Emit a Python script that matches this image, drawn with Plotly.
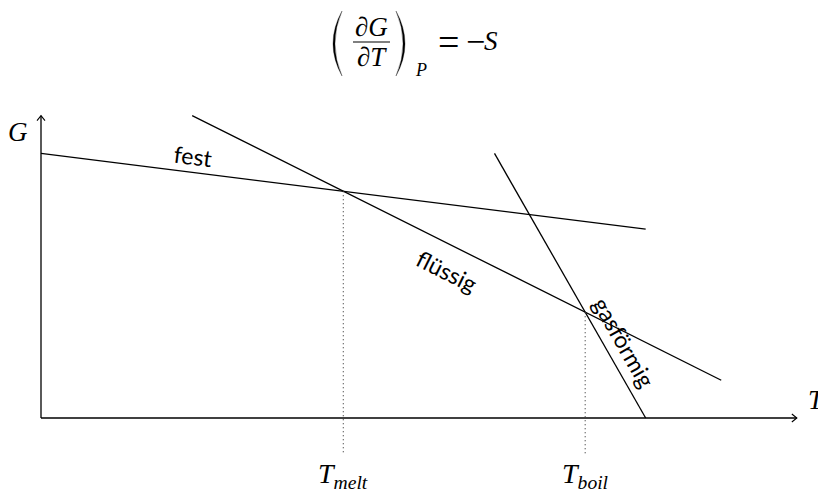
import math
import numpy as np
import plotly.graph_objects as go

W, H = 818, 492

# Gibbs energy G(T) of each phase (straight segments, end points)
fest_T = [0.0, 10.0]
fest_G = [7.0, 5.0]
fluessig_T = [2.5, 11.25]
fluessig_G = [8.0, 1.0]
gas_T = [7.5, 10.0]
gas_G = [7.0, 0.0]

# transition temperatures
T_melt = 5.0
T_boil = 9.0

# axis extents
T_axis_max = 12.5
G_axis_max = 8.0

# visible window in data units
x_range = [-0.678, 12.85]
y_range = [-1.958, 11.06]

sx = W / (x_range[1] - x_range[0])   # px per T unit
sy = H / (y_range[1] - y_range[0])   # px per G unit

LINE = dict(color="black", width=1.3)
SERIF = "Liberation Serif"
SANS = "Lato"
MATH = 28


def px_x(px):
    return px / W


def px_y(py):
    return 1 - py / H


def slope_angle(T, G):
    """Clockwise screen angle (deg) of a segment, for rotated labels."""
    dG = (G[1] - G[0]) / (T[1] - T[0])
    return math.degrees(math.atan(-dG * sy / sx))


fig = go.Figure()

# coordinate axes with open arrow heads
fig.add_trace(go.Scatter(x=[0, T_axis_max], y=[0, 0], mode="lines",
                         line=LINE, hoverinfo="skip"))
fig.add_trace(go.Scatter(x=[0, 0], y=[0, G_axis_max], mode="lines",
                         line=LINE, hoverinfo="skip"))
hb, hw = 5.0, 4.0  # head length / half width in px
fig.add_trace(go.Scatter(
    x=[T_axis_max - hb / sx, T_axis_max, T_axis_max - hb / sx],
    y=[hw / sy, 0, -hw / sy], mode="lines",
    line=dict(color="black", width=1.1), hoverinfo="skip"))
fig.add_trace(go.Scatter(
    x=[-hw / sx, 0, hw / sx],
    y=[G_axis_max - hb / sy, G_axis_max, G_axis_max - hb / sy], mode="lines",
    line=dict(color="black", width=1.1), hoverinfo="skip"))

# phase lines
for T, G in [(fest_T, fest_G), (fluessig_T, fluessig_G), (gas_T, gas_G)]:
    fig.add_trace(go.Scatter(x=T, y=G, mode="lines", line=LINE,
                             hoverinfo="skip"))

# dotted drop lines at the transitions
G_melt = float(np.interp(T_melt, fest_T, fest_G))
G_boil = float(np.interp(T_boil, fluessig_T, fluessig_G))
drop_bottom = -0.93
for T0, G0 in [(T_melt, G_melt), (T_boil, G_boil)]:
    fig.add_trace(go.Scatter(x=[T0, T0], y=[G0, drop_bottom], mode="lines",
                             line=dict(color="#444444", width=1.2,
                                       dash="1px,3px"),
                             hoverinfo="skip"))

annotations = []


def label_on(T, G, t, text, dx, dy, size=23):
    g = float(np.interp(t, T, G))
    annotations.append(dict(
        x=t, y=g, xref="x", yref="y", text=text, showarrow=False,
        xanchor="center", yanchor="middle", xshift=dx, yshift=dy,
        textangle=slope_angle(T, G),
        font=dict(family=SANS, size=size, color="black")))


label_on(fest_T, fest_G, 2.53, "fest", 0, 17)
label_on(fluessig_T, fluessig_G, 6.71, "flüssig", 0, -28)
label_on(gas_T, gas_G, 9.28, "gasförmig", 22, 0)

# axis names
annotations.append(dict(x=0, y=G_axis_max, xref="x", yref="y",
                        text="<i>G</i>", showarrow=False,
                        xanchor="center", yanchor="middle",
                        xshift=-23, yshift=-16,
                        font=dict(family=SERIF, size=27, color="black")))
annotations.append(dict(x=T_axis_max, y=0, xref="x", yref="y",
                        text="<i>T</i>", showarrow=False,
                        xanchor="left", yanchor="middle",
                        xshift=9, yshift=18,
                        font=dict(family=SERIF, size=27, color="black")))

# transition temperature labels
for T0, name in [(T_melt, "melt"), (T_boil, "boil")]:
    annotations.append(dict(x=T0, y=0, xref="x", yref="y",
                            text=f"<i>T</i><sub><i>{name}</i></sub>",
                            showarrow=False, xanchor="center",
                            yanchor="middle", yshift=-57,
                            font=dict(family=SERIF, size=MATH, color="black")))

# title formula  (dG/dT)_P = -S
formula = [
    ("∂<i>G</i>", 371.5, 27, 27),
    ("∂<i>T</i>", 371.5, 57, 27),
    ("<i>P</i>", 421, 70, 18),
    ("=", 448, 42, 38),
    ("−", 475, 42, 34),
    ("<i>S</i>", 491, 41, 27),
]
for text, x, y, size in formula:
    annotations.append(dict(x=px_x(x), y=px_y(y), xref="paper", yref="paper",
                            text=text, showarrow=False, xanchor="center",
                            yanchor="middle",
                            font=dict(family=SERIF, size=size, color="black")))


def paren(x_end, top, bot, outer, inner):
    ym = (top + bot) / 2
    pts = [(x_end, top), (outer, ym), (x_end, bot), (inner, ym)]
    p = [(px_x(a), px_y(b)) for a, b in pts]
    return (f"M {p[0][0]},{p[0][1]} Q {p[1][0]},{p[1][1]} {p[2][0]},{p[2][1]} "
            f"Q {p[3][0]},{p[3][1]} {p[0][0]},{p[0][1]} Z")


shapes = [
    dict(type="path", xref="paper", yref="paper",
         path=paren(342, 11, 76, 324, 328),
         fillcolor="black", line=dict(width=0.3, color="black")),
    dict(type="path", xref="paper", yref="paper",
         path=paren(396, 11, 76, 414, 410),
         fillcolor="black", line=dict(width=0.3, color="black")),
    dict(type="line", xref="paper", yref="paper",
         x0=px_x(353), x1=px_x(390), y0=px_y(42), y1=px_y(42),
         line=dict(color="black", width=1.1)),
]

fig.update_layout(
    width=W, height=H,
    margin=dict(l=0, r=0, t=0, b=0),
    paper_bgcolor="white", plot_bgcolor="white",
    showlegend=False,
    xaxis=dict(range=x_range, visible=False, fixedrange=True),
    yaxis=dict(range=y_range, visible=False, fixedrange=True),
    annotations=annotations,
    shapes=shapes,
)

fig.write_html("out.html", config={"displayModeBar": False})
